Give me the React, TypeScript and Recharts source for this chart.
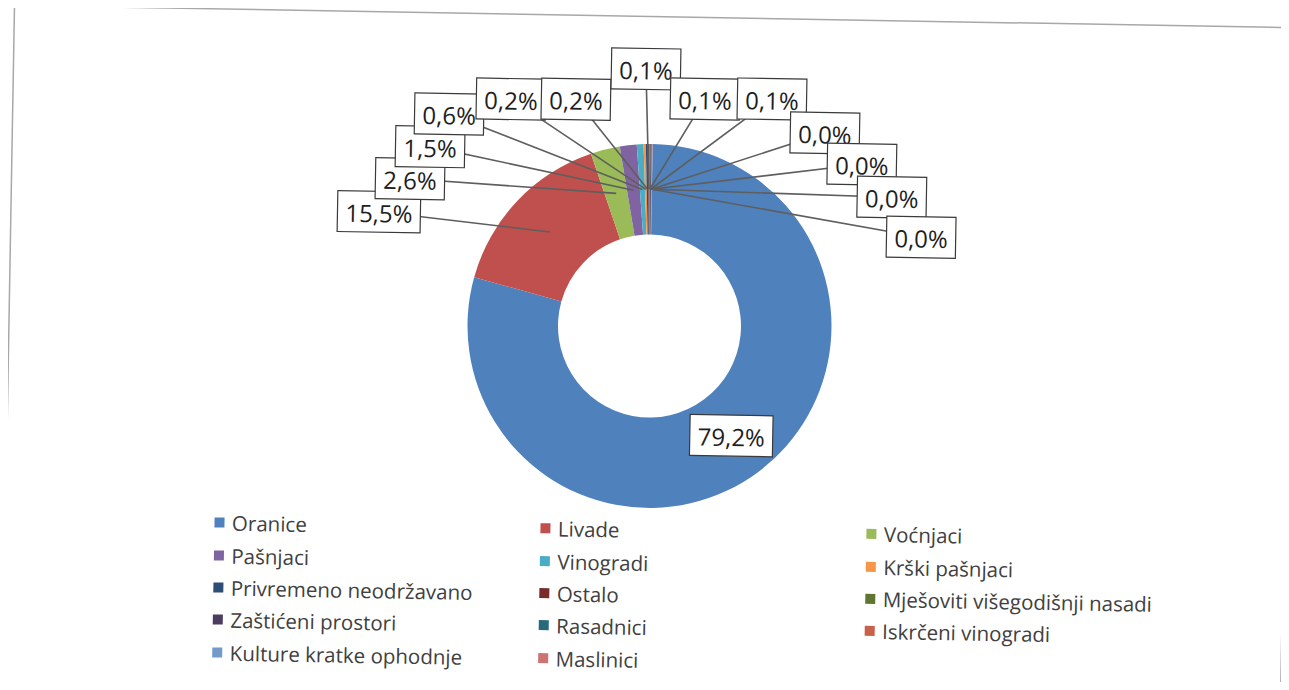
import React from 'react';
import { PieChart, Pie, Cell, Legend } from 'recharts';

// land use categories, clockwise from 12 o'clock
const NAMES = [
  'Oranice',
  'Livade',
  'Voćnjaci',
  'Pašnjaci',
  'Vinogradi',
  'Krški pašnjaci',
  'Privremeno neodržavano',
  'Ostalo',
  'Mješoviti višegodišnji nasadi',
  'Zaštićeni prostori',
  'Rasadnici',
  'Iskrčeni vinogradi',
  'Kulture kratke ophodnje',
  'Maslinici',
];

// share in % (the 0,0% ones are tiny, estimated)
const SHARES = [79.2, 15.5, 2.6, 1.5, 0.6, 0.2, 0.2, 0.1, 0.1, 0.1, 0.04, 0.03, 0.02, 0.01];

const COLORS = [
  '#4F81BD', '#C0504D', '#9BBB59', '#8064A2', '#4BACC6', '#F79646', '#2C4D75',
  '#772C2A', '#5F7530', '#4D3B62', '#276A7C', '#C8604A', '#729ACA', '#CD7371',
];

// where the callout boxes sit, relative to the pie centre (first one stays in the ring)
const LABEL_OFFSETS: ([number, number] | null)[] = [
  null,
  [-272.5, -109.5], [-242, -143], [-222.5, -175.5], [-204, -208.5],
  [-142.5, -224.5], [-77.5, -225.5], [-8, -257], [51.5, -228],
  [118.5, -229], [172, -196], [209.5, -165.5], [240, -133], [270, -93.5],
];

const data = NAMES.map((name, i) => ({ name, value: SHARES[i] }));

const FONT = '"Open Sans", "DejaVu Sans", sans-serif';
const CX = 649.5;
const CY = 326;

const fmt = (v: number) => `${v.toFixed(1).replace('.', ',')}%`;

// rough width of the label text at 24px
const textWidth = (s: string) =>
  s.split('').reduce((w, c) => w + (c === ',' ? 0.25 : c === '%' ? 0.823 : 0.572), 0) * 24;

const renderLabel = (props: any) => {
  const RADIAN = Math.PI / 180;
  const { cx, cy, midAngle, innerRadius, outerRadius, value, index } = props;
  const r = (innerRadius + outerRadius) / 2;
  const px = cx + r * Math.cos(-midAngle * RADIAN);
  const py = cy + r * Math.sin(-midAngle * RADIAN);
  const off = LABEL_OFFSETS[index];
  const lx = off ? cx + off[0] : px;
  const ly = off ? cy + off[1] : py;
  const text = fmt(value);
  const w = textWidth(text) + 16;
  const h = 41;

  return (
    <g key={`lbl-${index}`}>
      {off && <line x1={lx} y1={ly} x2={px} y2={py} stroke="#5e5e5e" strokeWidth={1.6} />}
      <rect x={lx - w / 2} y={ly - h / 2} width={w} height={h} fill="#fff" stroke="#3a3a3a" strokeWidth={1.2} />
      <text
        x={lx}
        y={ly + 1}
        textAnchor="middle"
        dominantBaseline="central"
        fontFamily={FONT}
        fontSize={24}
        fill="#1e1e1e"
      >
        {text}
      </text>
    </g>
  );
};

// legend keeps the data order, three columns filled row by row
const renderLegend = () => {
  const COL_X = [217.5, 543.5, 869.5];
  const ROW_H = 32.4;

  return (
    <div style={{ position: 'relative', width: 1289, height: 170, fontFamily: FONT, fontSize: 20.5, color: '#404040' }}>
      {NAMES.map((name, i) => {
        const col = i % 3;
        const row = Math.floor(i / 3);
        return (
          <div
            key={`leg-${i}`}
            style={{
              position: 'absolute',
              left: COL_X[col],
              top: row * ROW_H,
              height: ROW_H,
              display: 'flex',
              alignItems: 'center',
              whiteSpace: 'nowrap',
            }}
          >
            <span style={{ width: 10, height: 10, background: COLORS[i], marginRight: 8, display: 'inline-block' }} />
            <span>{name}</span>
          </div>
        );
      })}
    </div>
  );
};

export default function App() {
  return (
    <div style={{ position: 'relative', width: 1289, height: 690, margin: -8, overflow: 'hidden', background: '#fff' }}>
      {/* the scanned page is turned about one degree */}
      <div
        style={{
          position: 'absolute',
          left: 0,
          top: 0,
          width: 1289,
          height: 690,
          transform: 'rotate(1deg)',
          transformOrigin: `${CX}px ${CY}px`,
        }}
      >
        <PieChart width={1289} height={690} margin={{ top: 0, right: 0, bottom: 0, left: 0 }}>
          <Pie
            data={data}
            dataKey="value"
            nameKey="name"
            cx={CX}
            cy={CY}
            innerRadius={91.5}
            outerRadius={182}
            startAngle={90}
            endAngle={-270}
            stroke="none"
            label={renderLabel}
            labelLine={false}
            isAnimationActive={false}
          >
            {data.map((entry, index) => (
              <Cell key={`cell-${index}`} fill={COLORS[index]} />
            ))}
          </Pie>
          <Legend
            content={renderLegend}
            wrapperStyle={{ left: 0, top: 514, bottom: 'auto', width: 1289, height: 170 }}
          />
        </PieChart>
        {/* chart area frame */}
        <svg
          width={1300}
          height={710}
          style={{ position: 'absolute', left: 0, top: 0, pointerEvents: 'none', overflow: 'visible' }}
        >
          <rect x={9} y={16.5} width={1278} height={681} fill="none" stroke="#a8a8a8" strokeWidth={1.5} />
        </svg>
      </div>
    </div>
  );
}
